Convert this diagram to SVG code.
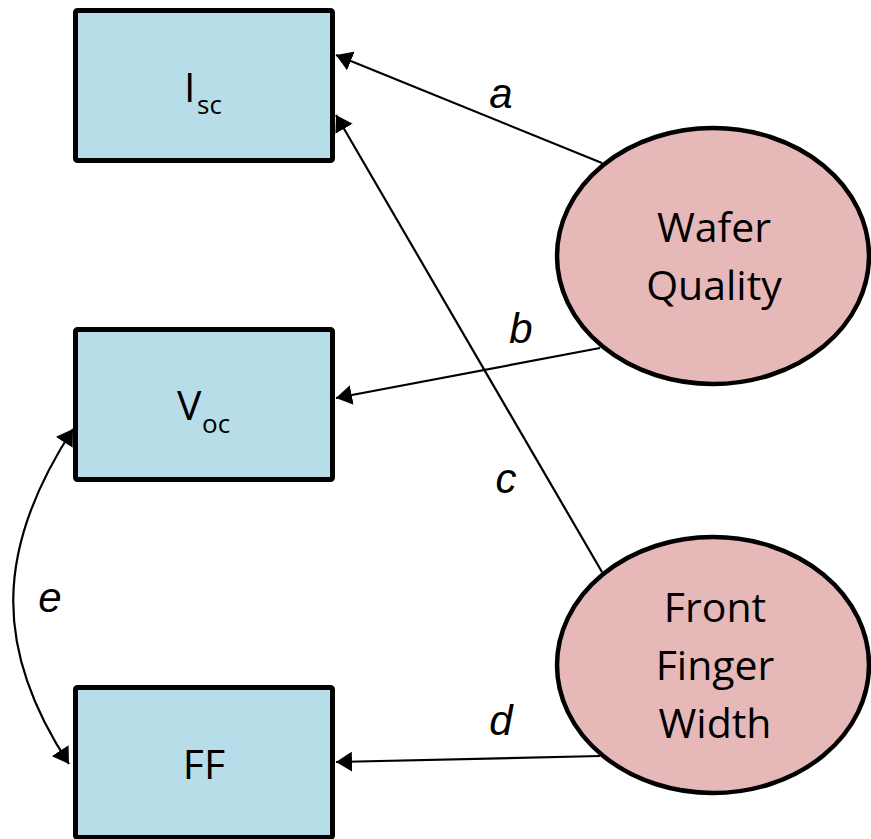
<svg xmlns="http://www.w3.org/2000/svg" width="871" height="839" viewBox="0 0 871 839">
  <style>
    .box { fill: #b7dee8; stroke: #000; stroke-width: 5; }
    .latent { fill: #e6b9b8; stroke: #000; stroke-width: 4.5; }
    .name { font-family: "Open Sans", "Noto Sans", sans-serif; font-size: 41px; fill: #000; }
    .path-label { font-family: "Liberation Sans", Arial, sans-serif; font-style: italic; font-size: 42px; fill: #000; text-anchor: middle; }
    .edge { fill: none; stroke: #000; stroke-width: 2.2; }
  </style>
  <defs>
    <marker id="head" viewBox="0 0 16 20" markerUnits="userSpaceOnUse" markerWidth="16" markerHeight="20" refX="16" refY="10" orient="auto">
      <path d="M0,0 L16,10 L0,20 z" fill="#000"/>
    </marker>
    <marker id="head-both" viewBox="0 0 16 20" markerUnits="userSpaceOnUse" markerWidth="16" markerHeight="20" refX="16" refY="10" orient="auto-start-reverse">
      <path d="M0,0 L16,10 L0,20 z" fill="#000"/>
    </marker>
  </defs>

  <!-- regression paths and the covariance between Voc and FF -->
  <g id="connectors">
    <line class="edge" x1="602" y1="163" x2="336" y2="55" marker-end="url(#head)"/>
    <line class="edge" x1="600" y1="348" x2="336" y2="398" marker-end="url(#head)"/>
    <line class="edge" x1="602" y1="572" x2="336" y2="115" marker-end="url(#head)"/>
    <line class="edge" x1="600" y1="756" x2="336" y2="762" marker-end="url(#head)"/>
    <path class="edge" d="M73,429 C-6,550 -6,650 69,764" marker-start="url(#head-both)" marker-end="url(#head-both)"/>
    <text class="path-label" x="501" y="108">a</text>
    <text class="path-label" x="521" y="343">b</text>
    <text class="path-label" x="506" y="493">c</text>
    <text class="path-label" x="501" y="735">d</text>
    <text class="path-label" x="50" y="612">e</text>
  </g>

  <g id="isc">
    <rect class="box" x="75.5" y="10.5" width="257" height="150" rx="2"/>
    <text class="name" x="184" y="102">I<tspan x="197" y="114" font-size="26">sc</tspan></text>
  </g>

  <g id="voc">
    <rect class="box" x="75.5" y="329.5" width="257" height="150" rx="2"/>
    <text class="name" x="177" y="420">V<tspan x="202" y="433" font-size="26">oc</tspan></text>
  </g>

  <g id="ff">
    <rect class="box" x="75.5" y="687.5" width="257" height="150" rx="2"/>
    <text class="name" x="204" y="779" text-anchor="middle">FF</text>
  </g>

  <g id="wafer-quality">
    <ellipse class="latent" cx="713" cy="256" rx="156" ry="128"/>
    <text class="name" text-anchor="middle"><tspan x="714" y="242">Wafer</tspan><tspan x="714" y="300">Quality</tspan></text>
  </g>

  <g id="front-finger-width">
    <ellipse class="latent" cx="713" cy="665" rx="156" ry="128"/>
    <text class="name" text-anchor="middle"><tspan x="715" y="622">Front</tspan><tspan x="715" y="680">Finger</tspan><tspan x="715" y="738">Width</tspan></text>
  </g>
</svg>
